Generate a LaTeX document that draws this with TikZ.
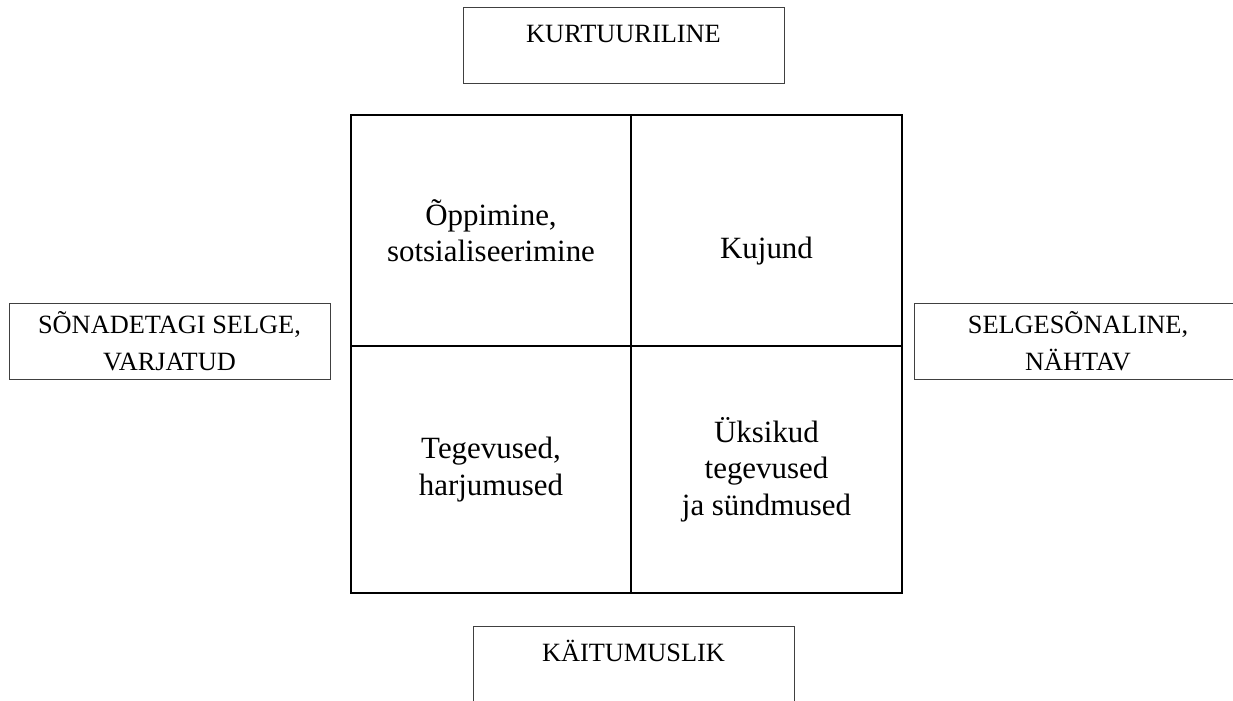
\documentclass[tikz,border=0pt]{standalone}
\usepackage{fontspec}
\setmainfont{Liberation Serif}

\begin{document}
\begin{tikzpicture}[x=0.02cm, y=-0.02cm,
    cell/.style={draw, line width=1.2pt, align=center, inner sep=0pt,
        font=\fontsize{17.6pt}{20.7pt}\selectfont},
    side/.style={draw=black!75, line width=0.5pt, align=center,
        minimum width=6.42cm, minimum height=1.52cm,
        font=\fontsize{15pt}{21pt}\selectfont},
    axis/.style={side, text height=0.4cm, text depth=0.52cm},
    wing/.style={side, execute at begin node={\rule{0pt}{0.78cm}}}]
    \useasboundingbox (0,0) rectangle (1233,700);
    \clip (0,0) rectangle (1233,700);

    \node[cell, minimum width=5.6cm, minimum height=4.62cm] (oppimine) at (491,230.5) {Õppimine,\\sotsialiseerimine};
    \node[cell, minimum width=5.42cm, minimum height=4.62cm] (kujund) at (766.5,230.5) {\vphantom{Õp}\\Kujund};
    \node[cell, minimum width=5.6cm, minimum height=4.94cm] (tegevused) at (491,469.5) {Tegevused,\\harjumused};
    \node[cell, minimum width=5.42cm, minimum height=4.94cm] (syndmused) at (766.5,469.5) {Üksikud\\tegevused\\ja sündmused};

    \node[axis] (kurtuuriline) at (623.5,45) {KURTUURILINE};
    \node[axis] (kaitumuslik) at (633.5,664) {KÄITUMUSLIK};
    \node[wing] (varjatud) at (169.5,341) {SÕNADETAGI SELGE,\\VARJATUD};
    \node[wing, minimum width=6.56cm] (nahtav) at (1078,341.5) {SELGESÕNALINE,\\NÄHTAV};
\end{tikzpicture}
\end{document}
